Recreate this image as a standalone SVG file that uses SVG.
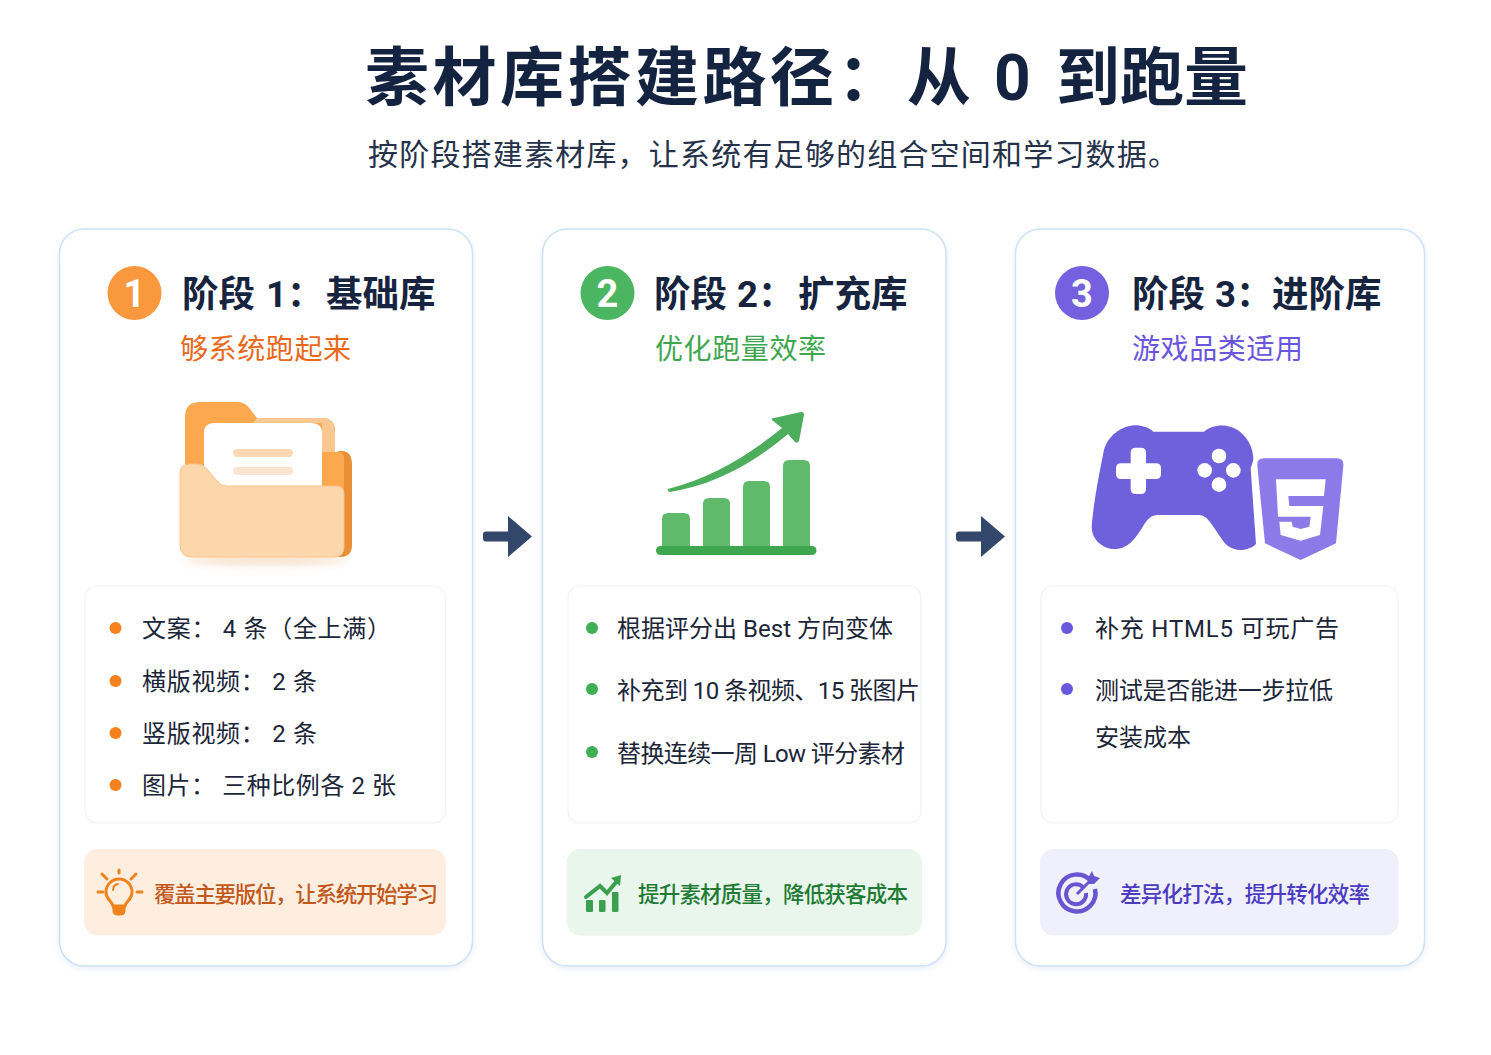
<svg xmlns="http://www.w3.org/2000/svg" width="1491" height="1055" viewBox="0 0 1491 1055">
<style>
text{font-family:Roboto,"Noto Sans CJK SC","Noto Sans",sans-serif}
.card{fill:#fff;stroke:#cfe1f6;stroke-width:1.5;filter:url(#soft)}
.panel{fill:#fff;stroke:#eff2f7;stroke-width:1.2}
.title{font-size:64px;font-weight:700;fill:#14233f}
.sub{font-size:30px;fill:#26324a}
.head{font-size:36.500px;font-weight:700;fill:#17243f}
.tag{font-size:28px;font-weight:400}
.num{font-size:38px;font-weight:700;fill:#fff;text-anchor:middle}
.item{font-size:24px;fill:#1c2639}
.note{font-size:21.500px;font-weight:500}
.arrow{fill:#33476b}
</style>
<defs>
<filter id="soft" x="-5%" y="-5%" width="110%" height="110%"><feDropShadow dx="0" dy="2" stdDeviation="3" flood-color="#b9cde8" flood-opacity=".35"/></filter>
<filter id="blur" x="-20%" y="-200%" width="140%" height="500%"><feGaussianBlur stdDeviation="4"/></filter>
</defs>
<rect width="1491" height="1055" fill="#fff"/>
<g id="header">
<text class="title" y="100"><tspan x="365" letter-spacing="3.500">素材库搭建路径&#65306;</tspan><tspan x="907">从</tspan><tspan x="994">0</tspan><tspan x="1056">到跑量</tspan></text>
<text class="sub" x="368" y="165" textLength="810" lengthAdjust="spacing">按阶段搭建素材库&#65292;让系统有足够的组合空间和学习数据。</text>
</g>
<g id="connectors">
<path class="arrow" d="M486 531.500H508V516L532 536.500L508 557V541.500H486A3 3 0 0 1 483 538.500V534.500A3 3 0 0 1 486 531.500Z"/>
<path class="arrow" d="M959 531.500H981V516L1005 536.500L981 557V541.500H959A3 3 0 0 1 956 538.500V534.500A3 3 0 0 1 959 531.500Z"/>
</g>
<g id="stage1">
<rect class="card" x="59.500" y="229" width="413" height="737" rx="25"/>
<circle cx="134.500" cy="293" r="27" fill="#f9983c"/>
<text class="num" x="134.500" y="307">1</text>
<text class="head" y="307"><tspan x="182">阶段</tspan><tspan x="266">1&#65306;</tspan><tspan x="326">基础库</tspan></text>
<text class="tag" x="180" y="359" textLength="171" lengthAdjust="spacing" fill="#e8681c">够系统跑起来</text>
<g id="folder-icon">
<ellipse cx="266" cy="560" rx="82" ry="4" fill="#e9b27c" opacity=".5" filter="url(#blur)"/>
<path d="M338 451H342Q352 451 352 465V545Q352 557 340 557H330Z" fill="#e98f35"/>
<path d="M185 470V417Q185 402 200 402H238Q245 402 250 409L257 418H322Q335 418 335 431V452H340Q344 452 344 458V490H185Z" fill="#fba84f"/>
<path d="M253 423L257 418H322Q335 418 335 431V452H322V423Z" fill="#fcc791"/>
<path d="M214 423H312Q322 423 322 433V490H204V433Q204 423 214 423Z" fill="#fff"/>
<rect x="233" y="449" width="60" height="8" rx="4" fill="#fcd9b4"/>
<rect x="233" y="467" width="60" height="8" rx="4" fill="#fce5cf"/>
<path d="M180 473Q180 464 190 464H197Q203 464 207 469L217 481Q221 486 227 486H336Q344 486 344 494V547Q344 557 334 557H192Q180 557 180 545Z" fill="#fdd7ac" stroke="#f9c48c" stroke-width="1"/>
</g>
<rect class="panel" x="85" y="586" width="360.500" height="237" rx="12"/>
<g fill="#f5821f"><circle cx="115.500" cy="628" r="6"/><circle cx="115.500" cy="681" r="6"/><circle cx="115.500" cy="733" r="6"/><circle cx="115.500" cy="785" r="6"/></g>
<text class="item" x="142" y="637" textLength="249" lengthAdjust="spacing">文案&#65306; 4 条&#65288;全上满&#65289;</text>
<text class="item" x="142" y="690" textLength="175" lengthAdjust="spacing">横版视频&#65306; 2 条</text>
<text class="item" x="142" y="742" textLength="175" lengthAdjust="spacing">竖版视频&#65306; 2 条</text>
<text class="item" x="142" y="794" textLength="254" lengthAdjust="spacing">图片&#65306; 三种比例各 2 张</text>
<rect x="84" y="849" width="362" height="86.500" rx="14" fill="#fdeedf"/>
<g id="bulb-icon" fill="none" stroke="#f0831f" stroke-width="3" stroke-linecap="round">
<path d="M113 906C112 901 106 900 106 892A13 13 0 1 1 132 892C132 900 126 901 125 906Z"/>
<path d="M113 907H125V911Q125 915 121 915H117Q113 915 113 911Z" fill="#f0831f" stroke-width="1"/>
<path d="M119 870V873M102 874L107 879M136 874L131 879M98 892H103M137 892H142"/>
<path d="M113 890Q113 885 118 884" stroke-width="2"/>
</g>
<text class="note" x="154" y="902" textLength="284" lengthAdjust="spacing" fill="#c2581c">覆盖主要版位&#65292;让系统开始学习</text>
</g>
<g id="stage2">
<rect class="card" x="542.500" y="229" width="403.500" height="737" rx="25"/>
<circle cx="607.500" cy="293" r="27" fill="#4cb561"/>
<text class="num" x="607.500" y="307">2</text>
<text class="head" y="307"><tspan x="654">阶段</tspan><tspan x="737">2&#65306;</tspan><tspan x="798">扩充库</tspan></text>
<text class="tag" x="655" y="359" textLength="171" lengthAdjust="spacing" fill="#3fa650">优化跑量效率</text>
<g id="chart-icon">
<g fill="#5fba6c"><path d="M662 547V519Q662 513 668 513H684Q690 513 690 519V547Z"/><path d="M703 547V504Q703 498 709 498H724Q730 498 730 504V547Z"/><path d="M743 547V487Q743 481 749 481H764Q770 481 770 487V547Z"/><path d="M783 547V466Q783 460 789 460H804Q810 460 810 466V547Z"/></g>
<rect x="656" y="546" width="160.500" height="9" rx="4.500" fill="#3fa650"/>
<path d="M668 489C710 478 745 458 782 428L772 420Q771 418 774 418L801 412Q804 412 804 415L799 441Q797 444 795 442L788 434C750 466 712 485 670 492Q667 491 668 489Z" fill="#4cae5c"/>
</g>
<rect class="panel" x="568" y="586" width="353" height="237" rx="12"/>
<g fill="#3fae55"><circle cx="592" cy="628" r="6"/><circle cx="592" cy="689" r="6"/><circle cx="592" cy="752" r="6"/></g>
<text class="item" x="617" y="637" textLength="276" lengthAdjust="spacing">根据评分出 Best 方向变体</text>
<text class="item" x="617" y="699" textLength="303" lengthAdjust="spacing">补充到 10 条视频、15 张图片</text>
<text class="item" x="617" y="762" textLength="288" lengthAdjust="spacing">替换连续一周 Low 评分素材</text>
<rect x="566.500" y="849" width="355.500" height="86.500" rx="14" fill="#e8f6ec"/>
<g id="growth-icon">
<path d="M586 897L600 886L607 893L617 881" fill="none" stroke="#3c9f50" stroke-width="4" stroke-linecap="round"/>
<path d="M611 878L621 875L620 886Z" fill="#3c9f50"/>
<g fill="#3c9f50"><rect x="586" y="900" width="7" height="12" rx="1"/><rect x="599" y="900" width="6.500" height="12" rx="1"/><rect x="612" y="892" width="6.500" height="20" rx="1"/></g>
</g>
<text class="note" x="638" y="902" textLength="270" lengthAdjust="spacing" fill="#1f7a33">提升素材质量&#65292;降低获客成本</text>
</g>
<g id="stage3">
<rect class="card" x="1015.500" y="229" width="409" height="737" rx="25"/>
<circle cx="1082" cy="293" r="27" fill="#7560e0"/>
<text class="num" x="1082" y="307">3</text>
<text class="head" y="307"><tspan x="1132">阶段</tspan><tspan x="1215">3&#65306;</tspan><tspan x="1272">进阶库</tspan></text>
<text class="tag" x="1132" y="359" textLength="171" lengthAdjust="spacing" fill="#6a55dc">游戏品类适用</text>
<g id="game-icon" transform="translate(1070 410) scale(.33333)">
<path d="M250 65H402C430 40 480 40 510 65C540 90 550 120 550 150L542 175L558 402C540 420 500 430 470 405C450 385 430 345 410 325C400 315 390 315 380 315H265C245 315 235 325 225 340C205 370 190 400 160 412C120 430 65 400 65 350C70 280 90 180 100 130C110 70 170 40 210 47C230 50 240 55 250 65Z" fill="#6f60dc"/>
<path d="M182 128Q182 113 197 113H213Q228 113 228 128V160H258Q273 160 273 175V192Q273 207 258 207H228V237Q228 252 213 252H197Q182 252 182 237V207H153Q138 207 138 192V175Q138 160 153 160H182Z" fill="#fff"/>
<g fill="#fff"><circle cx="447" cy="138" r="22"/><circle cx="404" cy="181" r="22"/><circle cx="490" cy="181" r="22"/><circle cx="447" cy="224" r="22"/></g>
<path d="M582 145H800Q822 145 820 167L798 400L692 450L585 400L562 167Q560 145 582 145Z" fill="#8b7ae8"/>
<path d="M618 208H767L762 258H655L658 288H760L750 375L692 392L632 375L628 335H665L668 350L692 357L718 350L722 320H624Z" fill="#fff"/>
</g>
<rect class="panel" x="1041" y="586" width="357" height="237" rx="12"/>
<g fill="#6a58dc"><circle cx="1067" cy="628" r="6"/><circle cx="1067" cy="689" r="6"/></g>
<text class="item" x="1095" y="637" textLength="244" lengthAdjust="spacing">补充 HTML5 可玩广告</text>
<text class="item" x="1095" y="699" textLength="238" lengthAdjust="spacing">测试是否能进一步拉低</text>
<text class="item" x="1095" y="746" textLength="96" lengthAdjust="spacing">安装成本</text>
<rect x="1040" y="849" width="358.500" height="86.500" rx="14" fill="#f0effc"/>
<g id="target-icon" fill="none" stroke="#6a55d0">
<path d="M1091 881A18.500 18.500 0 1 0 1095 889" stroke-width="4.500"/>
<path d="M1083 887A10 10 0 1 0 1086 893" stroke-width="4"/>
<path d="M1077 894L1092 879" stroke-width="3"/>
<path d="M1088 878L1092 871L1094 876L1100 878L1094 884L1088 884Z" fill="#6a55d0" stroke="none"/>
</g>
<text class="note" x="1120" y="902" textLength="250" lengthAdjust="spacing" fill="#4a3bc0">差异化打法&#65292;提升转化效率</text>
</g>
</svg>
